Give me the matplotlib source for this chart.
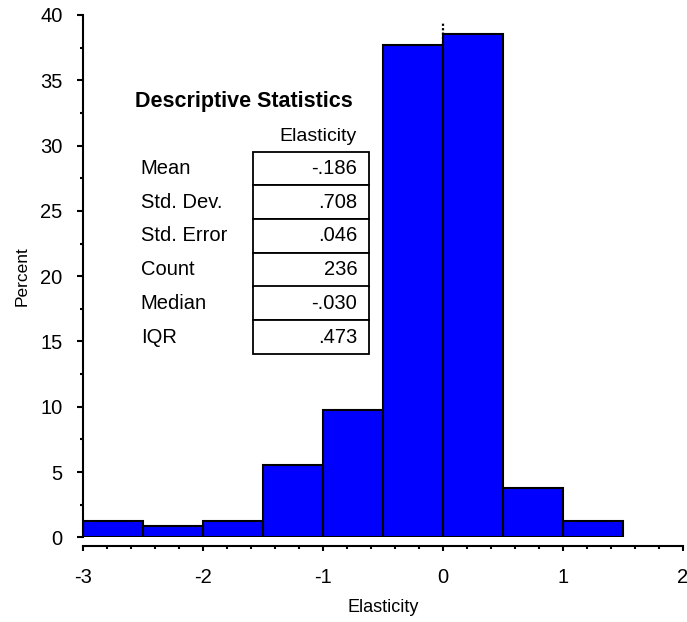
import matplotlib
matplotlib.use('Agg')
import matplotlib.pyplot as plt
import numpy as np
from matplotlib.patches import Rectangle
from matplotlib.ticker import MultipleLocator

plt.rcParams['font.family'] = ['Liberation Sans', 'DejaVu Sans']

# histogram bins (elasticity) and percent in each bin
bin_edges = [-3.0, -2.5, -2.0, -1.5, -1.0, -0.5, 0.0, 0.5, 1.0, 1.5]
percents = [1.27, 0.85, 1.27, 5.51, 9.75, 37.71, 38.56, 3.81, 1.27]

stat_names = ['Mean', 'Std. Dev.', 'Std. Error', 'Count', 'Median', 'IQR']
stat_values = ['-.186', '.708', '.046', '236', '-.030', '.473']

W, H = 687, 622
fig = plt.figure(figsize=(W / 100, H / 100), dpi=100)
ax = fig.add_axes([82.7 / W, 1 - 537.3 / H, (683 - 82.7) / W, (537.3 - 15) / H])

lefts = np.array(bin_edges[:-1])
widths = np.diff(bin_edges)
ax.vlines(0, 0, 39.4, colors='black', linestyles=(0, (1, 1)), linewidth=1.6, zorder=1)
ax.bar(lefts, percents, widths, align='edge', color='#0000FF',
       edgecolor='black', linewidth=1.5, zorder=2)

ax.set_xlim(-3, 2)
ax.set_ylim(0, 40)
ax.spines['top'].set_visible(False)
ax.spines['right'].set_visible(False)
ax.spines['bottom'].set_position(('outward', 6.5))
ax.spines['left'].set_linewidth(1.5)
ax.spines['bottom'].set_linewidth(1.5)

ax.xaxis.set_major_locator(MultipleLocator(1))
ax.xaxis.set_minor_locator(MultipleLocator(0.2))
ax.yaxis.set_major_locator(MultipleLocator(5))
ax.yaxis.set_minor_locator(MultipleLocator(2.5))
ax.tick_params(which='major', length=4.5, width=1.5, labelsize=14.5)
ax.tick_params(which='minor', length=2.5, width=1.5)
ax.tick_params(axis='x', which='major', length=3.8, pad=12)
ax.tick_params(axis='y', which='major', pad=10)
ax.set_xticklabels([str(int(t)) for t in ax.get_xticks()])

ax.set_xlabel('Elasticity', fontsize=13)
ax.set_ylabel('Percent', fontsize=12.5)
ax.xaxis.label.set_verticalalignment('center')
ax.yaxis.label.set_verticalalignment('center')
ax.xaxis.set_label_coords(0.5, (537.3 - 607) / 522.3)
ax.yaxis.set_label_coords((21.7 - 82.7) / 600.3, 0.5)


def fx(px):
    return px / W


def fy(py):
    return 1 - py / H


# descriptive statistics table
fig.text(fx(244), fy(101.7), 'Descriptive Statistics', fontsize=15.5,
         fontweight='bold', ha='center', va='center')
fig.text(fx(357), fy(136.7), 'Elasticity', fontsize=14, ha='right', va='center')
row_top = 151.7
row_h = 33.7
for i, (name, val) in enumerate(zip(stat_names, stat_values)):
    top = row_top + i * row_h
    fig.add_artist(Rectangle((fx(252.7), fy(top + row_h)), (369.3 - 252.7) / W,
                             row_h / H, transform=fig.transFigure,
                             facecolor='white', edgecolor='black', linewidth=1.3))
    fig.text(fx(140.7), fy(top + row_h / 2), name, fontsize=14.5, ha='left', va='center')
    fig.text(fx(357.3), fy(top + row_h / 2), val, fontsize=14.5, ha='right', va='center')

fig.savefig('out.png', dpi=100)
